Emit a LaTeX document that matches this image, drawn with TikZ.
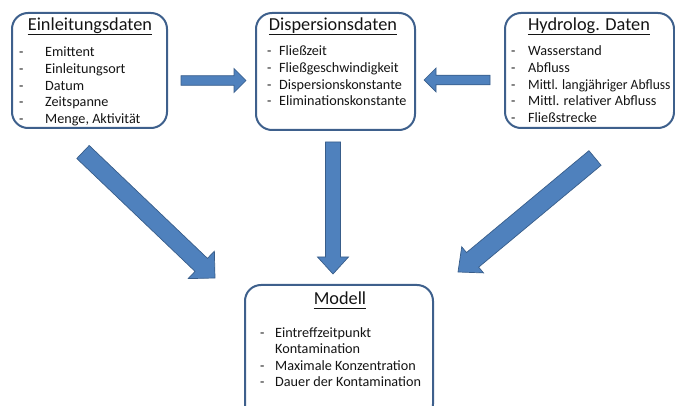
\documentclass[tikz,border=0pt]{standalone}
\usepackage{fontspec}
\usepackage{graphicx}
\setmainfont{Carlito}
\usetikzlibrary{calc}
\definecolor{boxline}{RGB}{62,96,140}
\definecolor{arrfill}{RGB}{79,129,189}
\definecolor{arrline}{RGB}{56,93,138}
\definecolor{txt}{RGB}{20,20,20}
\tikzset{
  infobox/.style={draw=boxline, line width=2pt, rounded corners=16pt, inner sep=0pt},
  headtxt/.style={inner sep=0pt, anchor=base, text=txt, font=\fontsize{18.3}{21}\selectfont},
  itemtxt/.style={inner sep=0pt, anchor=base west, text=txt, font=\fontsize{14.2}{16.6}\selectfont},
  blk/.style={fill=arrfill, draw=arrline, line width=0.7pt, line join=miter},
}
% block arrow: from #1 to #2, body half width #3, head half width #4, head length #5
\newcommand\blkarrow[5]{%
  \coordinate (hb#1#2) at ($(#2)!#5!(#1)$);
  \draw[blk] ($(#1)!#3!90:(#2)$) -- ($(hb#1#2)!#3!-90:(#1)$) -- ($(hb#1#2)!#4!-90:(#1)$) -- (#2)
     -- ($(hb#1#2)!#4!90:(#1)$) -- ($(hb#1#2)!#3!90:(#1)$) -- ($(#1)!#3!-90:(#2)$) -- cycle;
}
\newcommand\uh[1]{\draw[txt, line width=0.9pt] ([yshift=-3pt]#1.base west) -- ([yshift=-3pt]#1.base east);}
\begin{document}
\begin{tikzpicture}[x=1pt,y=-1pt]
\useasboundingbox (0,0) rectangle (675,406);
% boxes
\node[infobox, minimum width=155pt, minimum height=115pt] (b1) at (89.5,70.5) {};
\node[infobox, minimum width=159pt, minimum height=117pt] (b2) at (335.5,71.5) {};
\node[infobox, minimum width=169pt, minimum height=115pt] (b3) at (589.5,70.5) {};
\node[infobox, minimum width=188pt, minimum height=135pt] (b4) at (339,352.5) {};
% headings
\node[headtxt] (h1) at (90,31) {Einleitungsdaten}; \uh{h1}
\node[headtxt] (h2) at (333,31) {Dispersionsdaten}; \uh{h2}
\node[headtxt] (h3) at (589,31) {Hydrolog. Daten}; \uh{h3}
\node[headtxt] (h4) at (340,305) {Modell}; \uh{h4}
% items
\node[itemtxt] (l1) at (19,57) {\begin{tabular}[t]{@{}l@{}}
\makebox[26pt][l]{-}Emittent\\
\makebox[26pt][l]{-}Einleitungsort\\
\makebox[26pt][l]{-}Datum\\
\makebox[26pt][l]{-}Zeitspanne\\
\makebox[26pt][l]{-}Menge, Aktivität\end{tabular}};
\node[itemtxt] (l2) at (267,56) {\begin{tabular}[t]{@{}l@{}}
\makebox[12pt][l]{-}Fließzeit\\
\makebox[12pt][l]{-}Fließgeschwindigkeit\\
\makebox[12pt][l]{-}Dispersionskonstante\\
\makebox[12pt][l]{-}Eliminationskonstante\end{tabular}};
\node[itemtxt] (l3) at (511,56) {\begin{tabular}[t]{@{}l@{}}
\makebox[17pt][l]{-}Wasserstand\\
\makebox[17pt][l]{-}Abfluss\\
\makebox[17pt][l]{-}\scalebox{0.955}[1]{Mittl. langjähriger Abfluss}\\
\makebox[17pt][l]{-}Mittl. relativer Abfluss\\
\makebox[17pt][l]{-}Fließstrecke\end{tabular}};
\node[itemtxt] (l4) at (260,337) {\begin{tabular}[t]{@{}l@{}}
\makebox[15pt][l]{-}Eintreffzeitpunkt\\
\makebox[15pt][l]{}Kontamination\\
\makebox[15pt][l]{-}Maximale Konzentration\\
\makebox[15pt][l]{-}Dauer der Kontamination\end{tabular}};
% arrow end points
\coordinate (a1s) at (181,80.5);
\coordinate (a1e) at (246,80.5);
\coordinate (a2s) at (490,80);
\coordinate (a2e) at (424,80);
\coordinate (a3s) at (333,142);
\coordinate (a3e) at (333,274);
\coordinate (a4s) at (83,152);
\coordinate (a4e) at (215,278);
\coordinate (a5s) at (595,158);
\coordinate (a5e) at (458,272);
\blkarrow{a1s}{a1e}{4.8pt}{12pt}{12pt}
\blkarrow{a2s}{a2e}{4.8pt}{12pt}{12pt}
\blkarrow{a3s}{a3e}{7.5pt}{15.5pt}{17pt}
\blkarrow{a4s}{a4e}{9pt}{19pt}{19pt}
\blkarrow{a5s}{a5e}{9.5pt}{17pt}{19pt}
\end{tikzpicture}
\end{document}
